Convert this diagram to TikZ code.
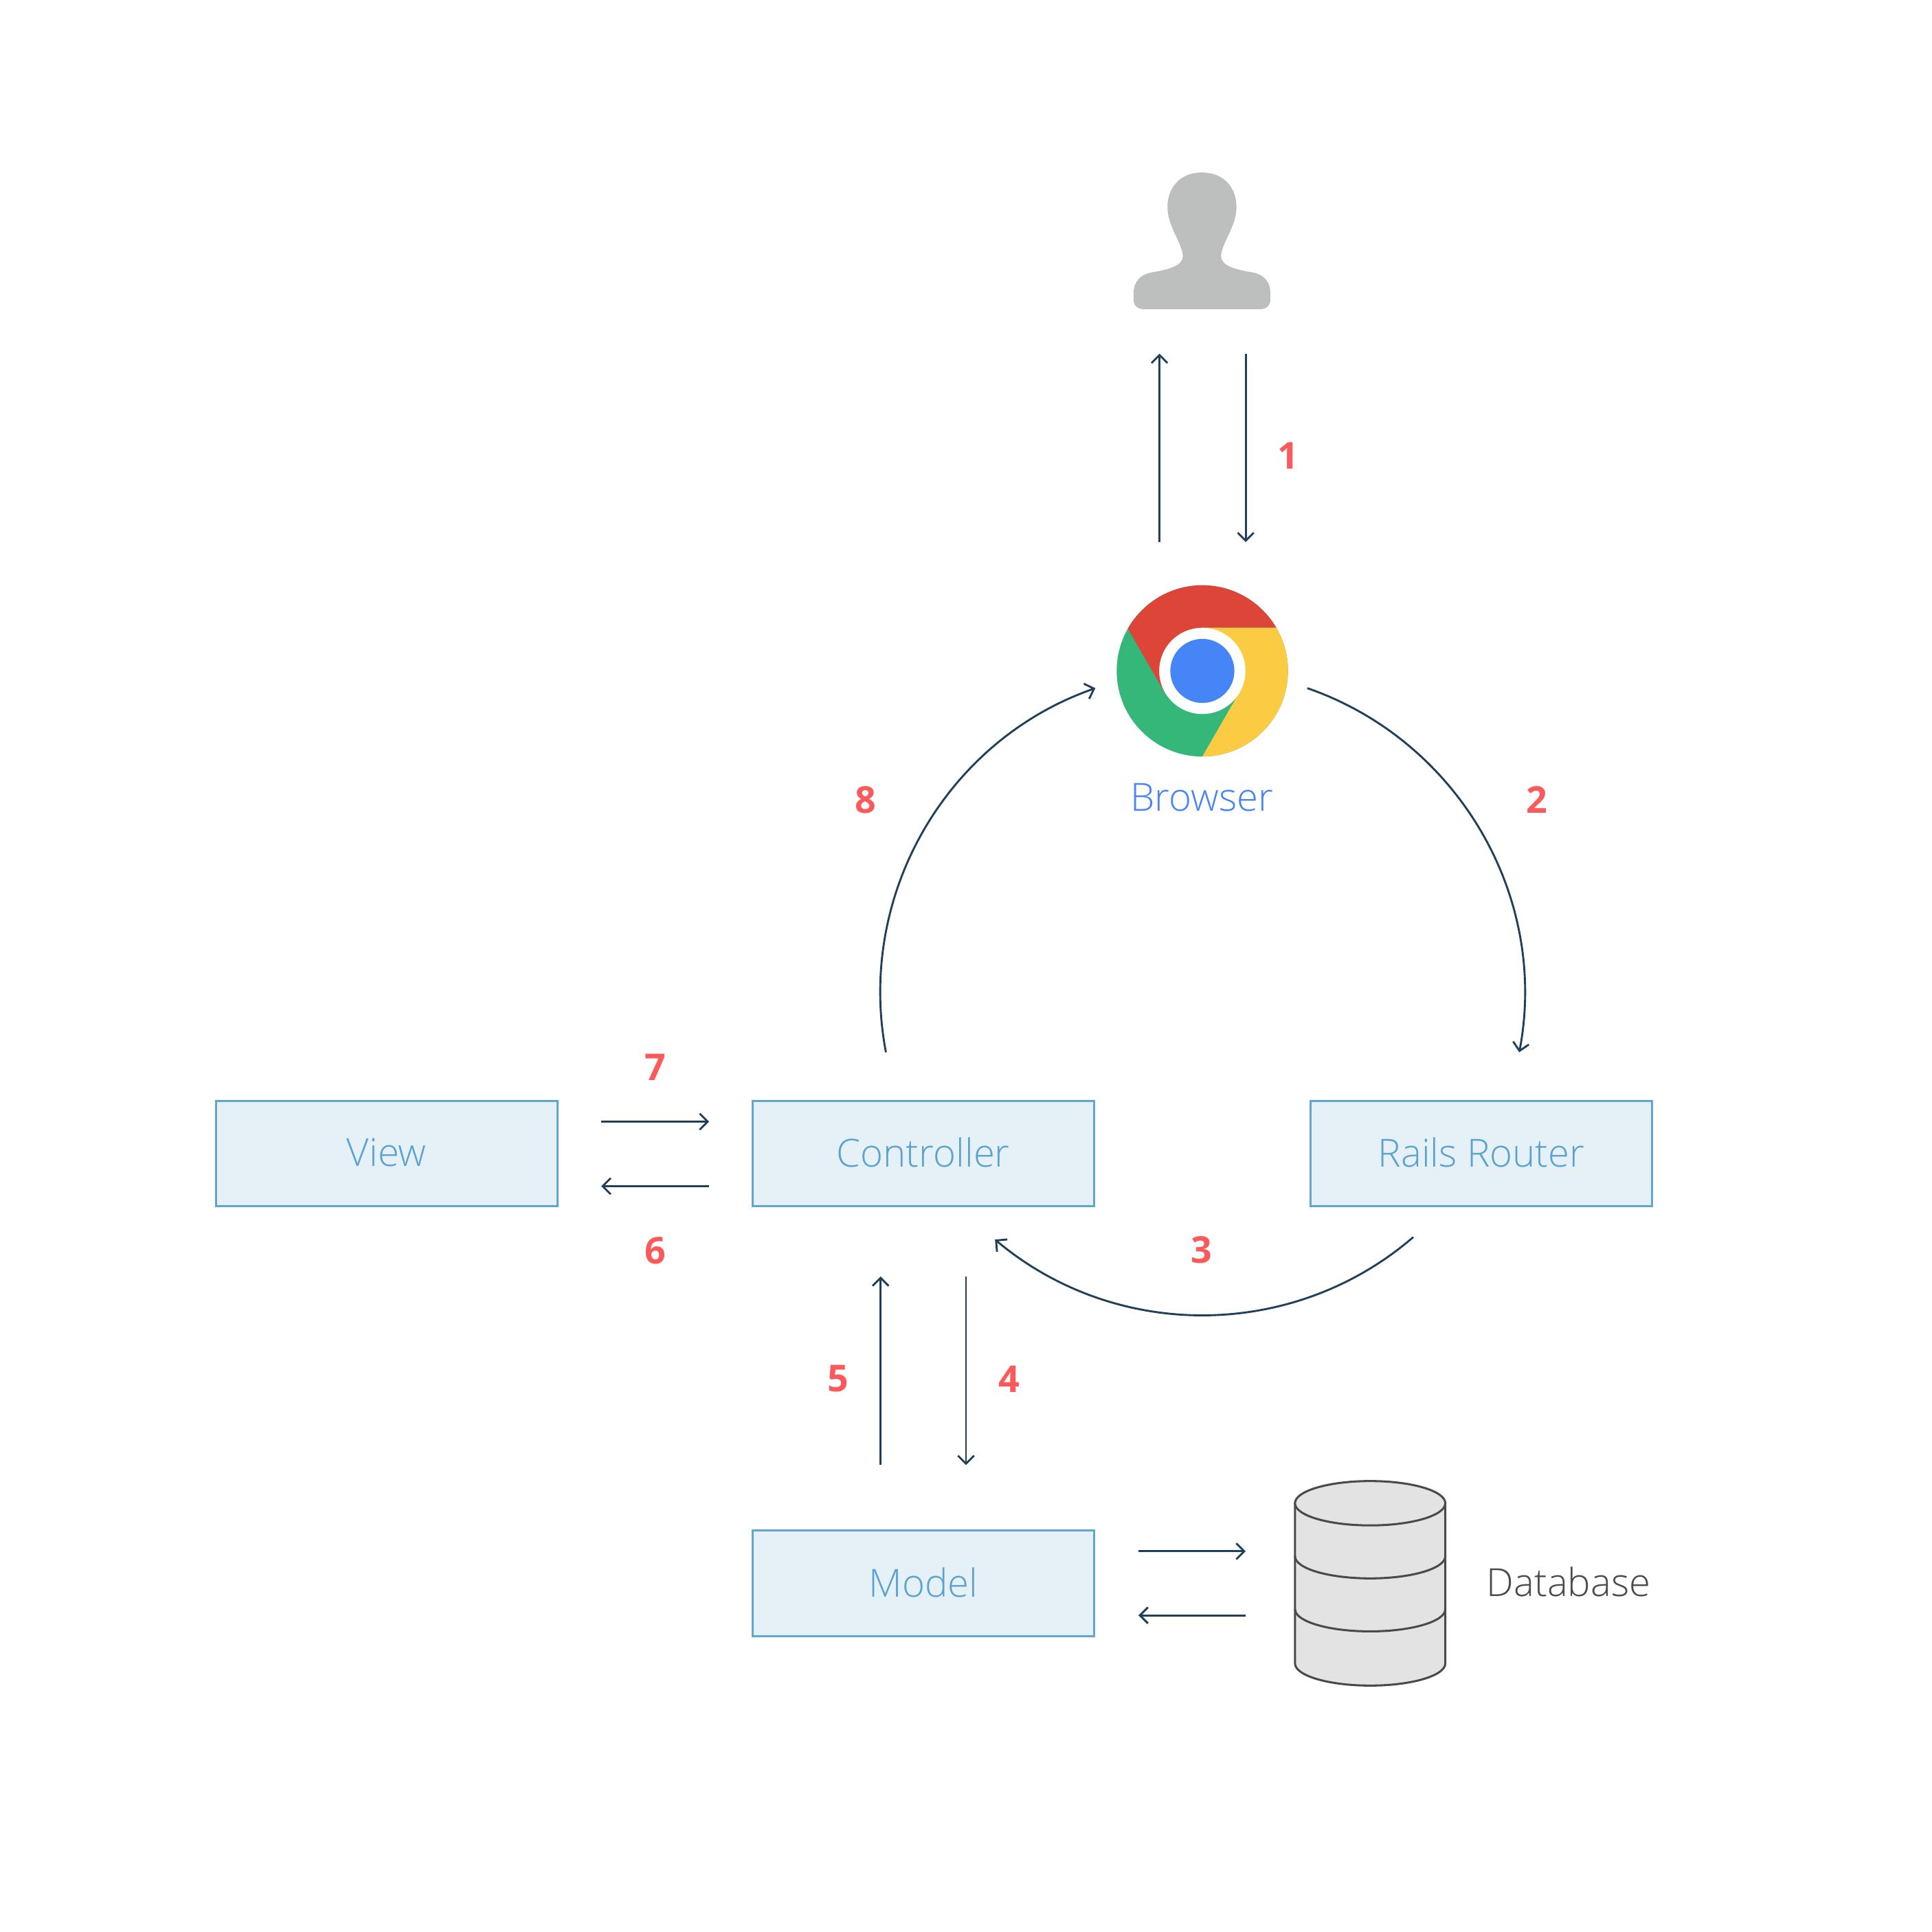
\documentclass[tikz,border=0pt]{standalone}
\usepackage{fontspec}
\setmainfont{Open Sans}
\newfontfamily\lightfont{Open Sans Light}
\usetikzlibrary{arrows.meta}
\definecolor{boxfill}{HTML}{E5F0F7}
\definecolor{boxline}{HTML}{5FA6D1}
\definecolor{boxtext}{HTML}{5BA3CF}
\definecolor{arrowcol}{HTML}{1F3F5B}
\definecolor{numcol}{HTML}{FA5A5C}
\definecolor{usercol}{HTML}{BDBFBE}
\definecolor{cred}{HTML}{DD4539}
\definecolor{cyellow}{HTML}{FBCB43}
\definecolor{cgreen}{HTML}{34B779}
\definecolor{cblue}{HTML}{4685F6}
\definecolor{dbfill}{HTML}{E3E3E3}
\definecolor{dbline}{HTML}{4A4A4A}
\tikzset{
  x=1pt,y=-1pt,
  flowbox/.style={draw=boxline,fill=boxfill,line width=1.8pt,minimum width=277pt,minimum height=85.5pt,inner sep=0pt,text depth=2pt,text=boxtext,font=\lightfont\fontsize{31.4}{36}\selectfont},
  flow/.style={draw=arrowcol,line width=1.6pt,-{Straight Barb[length=6.5pt,width=13pt,line width=1.6pt]}},
  num/.style={text=numcol,inner sep=0pt,font=\bfseries\fontsize{30}{36}\selectfont},
  plainlabel/.style={inner sep=0pt,font=\lightfont\fontsize{31.4}{36}\selectfont},
  dbpart/.style={draw=dbline,fill=dbfill,line width=1.7pt},
}
\begin{document}
\begin{tikzpicture}
\useasboundingbox[fill=white] (0,0) rectangle (1568,1568);

% boxes
\node[flowbox] (view) at (313.8,936.3) {View};
\node[flowbox] (controller) at (749.3,936.3) {Controller};
\node[flowbox] (router) at (1202.3,936.3) {Rails Router};
\node[flowbox] (model) at (749.3,1285) {Model};

% user
\fill[usercol] (975.5,140) .. controls (993,140) and (1003.5,152) .. (1003.5,168)
  .. controls (1003.5,184) and (991,198) .. (991,208)
  .. controls (991,216) and (1004,219) .. (1016,221)
  .. controls (1025,222.5) and (1031,228) .. (1031,238)
  -- (1031,243)
  .. controls (1031,248) and (1028,251) .. (1022,251)
  -- (929,251)
  .. controls (923,251) and (920,248) .. (920,243)
  -- (920,238)
  .. controls (920,228) and (926,222.5) .. (935,221)
  .. controls (947,219) and (960,216) .. (960,208)
  .. controls (960,198) and (947.5,184) .. (947.5,168)
  .. controls (947.5,152) and (958,140) .. (975.5,140) -- cycle;

% browser icon
\begin{scope}
  \clip (975.8,544.5) circle[radius=69.5pt];
  \fill[cgreen] (900,470) rectangle (1050,620);
  \fill[cred] (975.5,544.5) -- (945.2,562) -- (885,457.5) -- (1100,440) -- (1100,509.5) -- (975.5,509.5) -- cycle;
  \fill[cyellow] (975.5,544.5) -- (975.5,509.5) -- (1100,509.5) -- (1100,650) -- (955,650) -- (1005.8,562) -- cycle;
\end{scope}
\fill[white] (975.8,544.5) circle[radius=35pt];
\fill[cblue] (975.8,544.5) circle[radius=26pt];
\node[plainlabel,text=cblue] (browser) at (975.5,647) {Browser};

% database
\path[dbpart] (1051,1220) -- (1051,1350) arc[start angle=180,end angle=360,x radius=61pt,y radius=18pt] -- (1173,1220) -- cycle;
\draw[dbline,line width=1.7pt] (1051,1263) arc[start angle=180,end angle=360,x radius=61pt,y radius=18pt];
\draw[dbline,line width=1.7pt] (1051,1306) arc[start angle=180,end angle=360,x radius=61pt,y radius=18pt];
\path[dbpart] (1112,1220) ellipse[x radius=61pt,y radius=18pt];
\node[plainlabel,text=dbline] (dblabel) at (1273,1284) {Database};

% connector ends
\coordinate (a1s) at (941,440); \coordinate (a1e) at (941,287);
\coordinate (a2s) at (1011,287); \coordinate (a2e) at (1011,440);
\coordinate (b1s) at (1061,558.5); \coordinate (b1e) at (1233,854);
\coordinate (b2s) at (1147,1004); \coordinate (b2e) at (807.5,1006);
\coordinate (b3s) at (719,854); \coordinate (b3e) at (889,558.5);
\coordinate (c1s) at (488,910.3); \coordinate (c1e) at (575.5,910.3);
\coordinate (c2s) at (575.5,962.7); \coordinate (c2e) at (488,962.7);
\coordinate (d1s) at (714.7,1189); \coordinate (d1e) at (714.7,1036);
\coordinate (d2s) at (784,1036); \coordinate (d2e) at (784,1189);
\coordinate (e1s) at (924,1259); \coordinate (e1e) at (1011,1259);
\coordinate (e2s) at (1011,1311); \coordinate (e2e) at (924,1311);

\draw[flow] (a1s) -- (a1e);
\draw[flow] (a2s) -- (a2e);
\draw[flow] (b1s) to[out=-19.1,in=79.2,distance=129pt] (b1e);
\draw[flow] (b2s) to[out=-139.2,in=-40,distance=128.3pt] (b2e);
\draw[flow] (b3s) to[out=100.8,in=199.3,distance=129pt] (b3e);
\draw[flow] (c1s) -- (c1e);
\draw[flow] (c2s) -- (c2e);
\draw[flow] (d1s) -- (d1e);
\draw[flow] (d2s) -- (d2e);
\draw[flow] (e1s) -- (e1e);
\draw[flow] (e2s) -- (e2e);

% numbers
\node[num] (n1) at (1045.3,370) {1};
\node[num] (n2) at (1247,649) {2};
\node[num] (n3) at (975,1014.5) {3};
\node[num] (n4) at (819,1119) {4};
\node[num] (n5) at (680,1119) {5};
\node[num] (n6) at (532,1015) {6};
\node[num] (n7) at (532,866) {7};
\node[num] (n8) at (702.3,649) {8};
\end{tikzpicture}
\end{document}
